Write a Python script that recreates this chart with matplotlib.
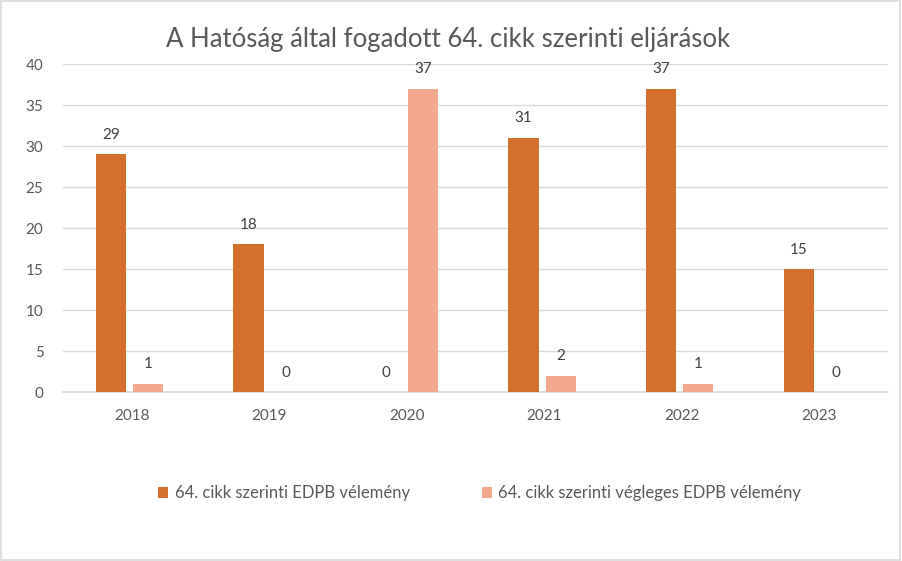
import matplotlib.pyplot as plt
import numpy as np
from matplotlib.patches import Rectangle

years = ['2018', '2019', '2020', '2021', '2022', '2023']
edpb = [29, 18, 0, 31, 37, 15]
vegleges = [1, 0, 37, 2, 1, 0]
labels = ['64. cikk szerinti EDPB vélemény', '64. cikk szerinti végleges EDPB vélemény']
title = 'A Hatóság által fogadott 64. cikk szerinti eljárások'

c1 = '#D3702C'
c2 = '#F3A98B'
txt = '#595959'

plt.rcParams['font.family'] = ['Lato', 'DejaVu Sans']

fig = plt.figure(figsize=(9.02, 5.61), dpi=100)
fig.patches.append(Rectangle((0.001, 0.001), 0.997, 0.997, transform=fig.transFigure,
                             fill=False, edgecolor='#D9D9D9', linewidth=1.2))
ax = fig.add_axes([0.0698, 0.3012, 0.9147, 0.5847])

x = np.arange(len(years))
w = 0.22
b1 = ax.bar(x - 0.15, edpb, w, color=c1, label=labels[0], zorder=3)
b2 = ax.bar(x + 0.12, vegleges, w, color=c2, label=labels[1], zorder=3)

for bars, vals in [(b1, edpb), (b2, vegleges)]:
    for r, v in zip(bars, vals):
        ax.annotate(str(v), (r.get_x() + r.get_width() / 2, v), xytext=(0, 9),
                    textcoords='offset points', ha='center', va='bottom',
                    fontsize=11, color='#404040')

ax.set_xlim(-0.5, 5.5)
ax.set_ylim(0, 40)
ax.set_yticks(range(0, 41, 5))
ax.set_xticks(x)
ax.set_xticklabels(years)
ax.grid(axis='y', color='#D9D9D9', linewidth=1, zorder=0)
for s in ['top', 'right', 'left']:
    ax.spines[s].set_visible(False)
ax.spines['bottom'].set_color('#D9D9D9')
ax.spines['bottom'].set_linewidth(1.2)
ax.tick_params(axis='both', length=0, labelsize=11, labelcolor=txt)
ax.tick_params(axis='x', pad=12)
ax.tick_params(axis='y', pad=14)

fig.text(0.497, 0.93, title, ha='center', va='center', fontsize=18.5, color=txt)

fig.legend(handles=[b1, b2], labels=labels, loc='center', bbox_to_anchor=(0.532, 0.121),
           ncol=2, frameon=False, fontsize=12, labelcolor=txt, handlelength=0.6,
           handleheight=0.6, handletextpad=0.4, columnspacing=4.3)

plt.savefig('out.png', dpi=100)
